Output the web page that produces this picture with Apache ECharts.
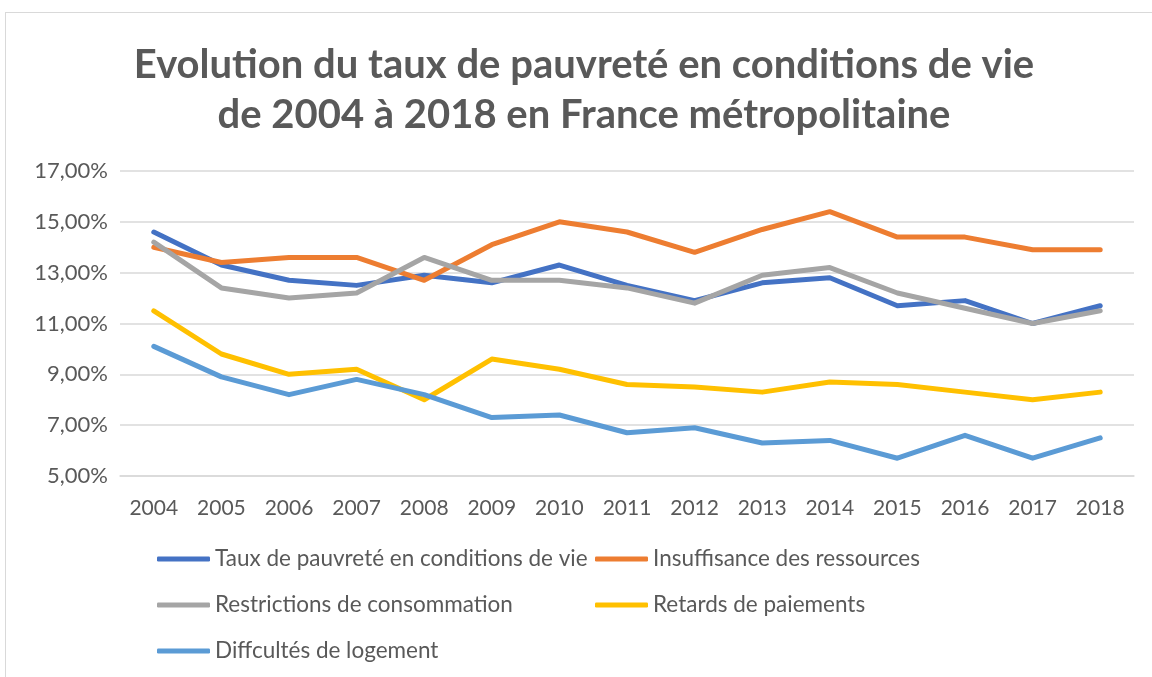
<!DOCTYPE html>
<html>
<head>
<meta charset="utf-8">
<title>Evolution du taux de pauvreté</title>
<style>
	* { margin: 0; padding: 0; }
	body { background: #fff; }
	#frame {
		position: absolute; left: 5px; top: 12px; width: 1200px; height: 700px;
		border: 1px solid #d9d9d9;
	}
	#main { position: absolute; left: 0; top: 0; width: 1152px; height: 677px; }
</style>
</head>
<body>
<div id="frame"></div>
<div id="main"></div>
<script src="https://cdn.jsdelivr.net/npm/echarts@6/dist/echarts.min.js"></script>
<script>
	// données (en %)
	var years = ['2004', '2005', '2006', '2007', '2008', '2009', '2010', '2011', '2012', '2013', '2014', '2015', '2016', '2017', '2018'];
	var tauxPauvrete = [14.6, 13.3, 12.7, 12.5, 12.9, 12.6, 13.3, 12.5, 11.9, 12.6, 12.8, 11.7, 11.9, 11.0, 11.7];
	var insuffisance = [14.0, 13.4, 13.6, 13.6, 12.7, 14.1, 15.0, 14.6, 13.8, 14.7, 15.4, 14.4, 14.4, 13.9, 13.9];
	var restrictions = [14.2, 12.4, 12.0, 12.2, 13.6, 12.7, 12.7, 12.4, 11.8, 12.9, 13.2, 12.2, 11.6, 11.0, 11.5];
	var retards = [11.5, 9.8, 9.0, 9.2, 8.0, 9.6, 9.2, 8.6, 8.5, 8.3, 8.7, 8.6, 8.3, 8.0, 8.3];
	var logement = [10.1, 8.9, 8.2, 8.8, 8.2, 7.3, 7.4, 6.7, 6.9, 6.3, 6.4, 5.7, 6.6, 5.7, 6.5];

	var seriesNames = ['Taux de pauvreté en conditions de vie', 'Insuffisance des ressources', 'Restrictions de consommation', 'Retards de paiements', 'Diffcultés de logement'];
	var seriesData = [tauxPauvrete, insuffisance, restrictions, retards, logement];
	var colors = ['#4472C4', '#ED7D31', '#A5A5A5', '#FFC000', '#5B9BD5'];

	var font = 'Lato';
	var textColor = '#595959';

	var chart = echarts.init(document.getElementById('main'));

	// position des entrées de légende (2 colonnes, 3 lignes)
	var legendPos = [[152, 542], [590, 542], [152, 588], [590, 588], [152, 634]];
	var legends = seriesNames.map(function (name, i) {
		return {
			data: [name],
			left: legendPos[i][0],
			top: legendPos[i][1],
			icon: 'roundRect',
			itemWidth: 53,
			itemHeight: 5,
			itemGap: 0,
			selectedMode: false,
			textStyle: { fontFamily: font, fontSize: 22.5, color: textColor, lineHeight: 24 }
		};
	});

	var option = {
		animation: false,
		color: colors,
		title: {
			text: 'Evolution du taux de pauvreté en conditions de vie\nde 2004 à 2018 en France métropolitaine',
			left: 579,
			textAlign: 'center',
			top: 35,
			textStyle: { fontFamily: font, fontSize: 40, fontWeight: 'bold', color: textColor, lineHeight: 50 }
		},
		legend: legends,
		grid: { left: 120, right: 18, top: 171, height: 305 },
		xAxis: {
			type: 'category',
			data: years,
			boundaryGap: true,
			axisLine: { show: true, lineStyle: { color: '#d9d9d9', width: 1.5 } },
			axisTick: { show: false },
			axisLabel: { fontFamily: font, fontSize: 21, color: textColor, margin: 22 }
		},
		yAxis: {
			type: 'value',
			min: 5,
			max: 17,
			interval: 2,
			axisLine: { show: false },
			axisTick: { show: false },
			splitLine: { lineStyle: { color: '#d9d9d9', width: 1.5 } },
			axisLabel: {
				fontFamily: font, fontSize: 22, color: textColor, margin: 12,
				formatter: function (v) { return v.toFixed(2).replace('.', ',') + '%'; }
			}
		},
		series: seriesNames.map(function (name, i) {
			return {
				name: name,
				type: 'line',
				data: seriesData[i],
				symbol: 'none',
				lineStyle: { width: 5, cap: 'round', join: 'round' }
			};
		})
	};
	chart.setOption(option);
</script>
</body>
</html>
